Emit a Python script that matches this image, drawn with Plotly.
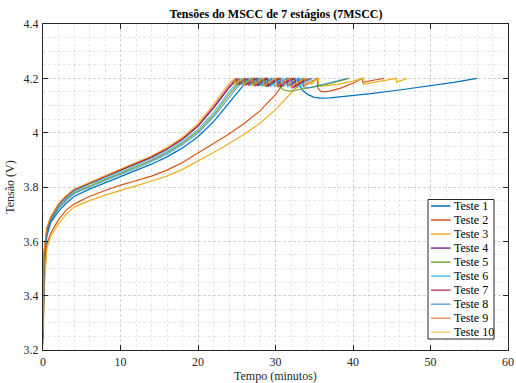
import plotly.graph_objects as go

# ---- data (time in minutes, voltage in V) ----
t1 = [0, 0.15, 0.5, 1, 2, 3, 4, 6, 8, 10, 12, 14, 16, 18, 20, 22, 24, 26, 26.6,
      26.65, 27.1, 27.7, 27.75, 28.3, 28.9, 28.95, 29.6, 30.3, 30.35, 31.0, 31.8, 31.85, 32.4, 33.0,
      33.1, 33.5, 34.2, 35.0, 35.8, 37.0, 39.0, 42.0, 46.0, 50.0, 53.0, 56.0]
v1 = [3.23, 3.50, 3.62, 3.67, 3.71, 3.74, 3.765, 3.792, 3.815, 3.838, 3.86, 3.884, 3.911, 3.944, 3.985, 4.04, 4.11, 4.18, 4.2,
      4.174, 4.189, 4.2, 4.173, 4.188, 4.2, 4.171, 4.187, 4.2, 4.17, 4.186, 4.2, 4.172, 4.188, 4.2,
      4.175, 4.155, 4.14, 4.13, 4.127, 4.128, 4.133, 4.143, 4.157, 4.172, 4.185, 4.2]

t2 = [0, 0.15, 0.5, 1, 2, 3, 4, 6, 8, 10, 12, 14, 16, 18, 20, 22, 24, 26, 28, 30, 31.5,
      31.55, 32.0, 32.5, 32.55, 33.1, 33.6, 33.65, 34.5, 35.4,
      35.45, 35.8, 36.3, 37.0, 38.5, 40.0, 41.2, 41.25, 42.6, 44.0]
v2 = [3.22, 3.45, 3.59, 3.63, 3.68, 3.715, 3.737, 3.765, 3.787, 3.807, 3.823, 3.84, 3.862, 3.89, 3.925, 3.96, 3.995, 4.035, 4.08, 4.14, 4.2,
      4.175, 4.189, 4.2, 4.173, 4.188, 4.2, 4.172, 4.187, 4.2,
      4.165, 4.153, 4.15, 4.153, 4.165, 4.182, 4.2, 4.185, 4.193, 4.2]

t3 = [0, 0.15, 0.5, 1, 2, 3, 4, 6, 8, 10, 12, 14, 16, 18, 20, 22, 24, 26, 28, 30, 32, 33.8,
      33.85, 34.2, 34.6, 34.65, 35.0, 35.5,
      35.55, 36.0, 38.0, 40.0, 41.3, 41.35, 43.5, 45.6, 45.65, 46.3, 47.0]
v3 = [3.22, 3.42, 3.575, 3.62, 3.665, 3.70, 3.726, 3.75, 3.77, 3.786, 3.804, 3.822, 3.84, 3.865, 3.895, 3.927, 3.96, 3.995, 4.035, 4.085, 4.145, 4.2,
      4.178, 4.19, 4.2, 4.177, 4.19, 4.2,
      4.172, 4.171, 4.178, 4.19, 4.2, 4.178, 4.19, 4.2, 4.186, 4.194, 4.2]

t4 = [0, 0.15, 0.5, 1, 2, 3, 4, 6, 8, 10, 12, 14, 16, 18, 20, 22, 24, 25.0,
      25.05, 25.6, 26.1, 26.15, 26.7, 27.3, 27.35, 28.0, 28.7, 28.75, 29.5, 30.3,
      30.35, 31.2, 32.2, 32.25, 33.4, 34.6]
v4 = [3.25, 3.56, 3.645, 3.686, 3.735, 3.765, 3.789, 3.815, 3.838, 3.862, 3.885, 3.91, 3.94, 3.977, 4.025, 4.092, 4.168, 4.2,
      4.175, 4.19, 4.2, 4.174, 4.189, 4.2, 4.172, 4.188, 4.2, 4.17, 4.187, 4.2,
      4.168, 4.186, 4.2, 4.165, 4.185, 4.2]

t5 = [0, 0.15, 0.5, 1, 2, 3, 4, 6, 8, 10, 12, 14, 16, 18, 20, 22, 24, 25.8,
      25.85, 26.3, 26.9, 26.95, 27.5, 28.1, 28.15, 28.8, 29.5, 29.55, 30.0, 30.5,
      30.55, 31.0, 31.8, 33.0, 35.0, 37.0, 39.5]
v5 = [3.24, 3.54, 3.635, 3.678, 3.725, 3.755, 3.779, 3.805, 3.828, 3.85, 3.873, 3.898, 3.927, 3.962, 4.005, 4.065, 4.14, 4.2,
      4.175, 4.19, 4.2, 4.174, 4.189, 4.2, 4.172, 4.188, 4.2, 4.175, 4.19, 4.2,
      4.17, 4.158, 4.153, 4.158, 4.168, 4.18, 4.2]

t6 = [0, 0.15, 0.5, 1, 2, 3, 4, 6, 8, 10, 12, 14, 16, 18, 20, 22, 24, 25.6,
      25.65, 26.1, 26.7, 26.75, 27.3, 27.9, 27.95, 28.6, 29.3, 29.35, 30.1, 30.9,
      30.95, 31.8, 32.8, 32.85, 33.8, 34.8]
v6 = [3.24, 3.55, 3.64, 3.682, 3.73, 3.76, 3.783, 3.81, 3.832, 3.855, 3.878, 3.903, 3.932, 3.968, 4.012, 4.075, 4.15, 4.2,
      4.176, 4.19, 4.2, 4.174, 4.189, 4.2, 4.172, 4.188, 4.2, 4.17, 4.187, 4.2,
      4.168, 4.186, 4.2, 4.166, 4.185, 4.2]

t7 = [0, 0.15, 0.5, 1, 2, 3, 4, 6, 8, 10, 12, 14, 16, 18, 20, 22, 24, 25.3,
      25.35, 25.9, 26.4, 26.45, 27.0, 27.6, 27.65, 28.3, 29.0, 29.05, 29.8, 30.6,
      30.65, 31.5, 32.5, 32.55, 33.3, 34.0]
v7 = [3.25, 3.56, 3.645, 3.686, 3.735, 3.765, 3.789, 3.815, 3.838, 3.862, 3.885, 3.91, 3.94, 3.976, 4.023, 4.09, 4.165, 4.2,
      4.176, 4.19, 4.2, 4.174, 4.189, 4.2, 4.172, 4.188, 4.2, 4.17, 4.187, 4.2,
      4.168, 4.186, 4.2, 4.17, 4.187, 4.2]

t8 = [0, 0.15, 0.5, 1, 2, 3, 4, 6, 8, 10, 12, 14, 16, 18, 20, 22, 24, 26.0,
      26.05, 26.5, 27.1, 27.15, 27.7, 28.3, 28.35, 29.0, 29.8, 29.85, 30.6, 31.5,
      31.55, 32.5, 33.5, 33.55, 34.3, 35.5, 37.5, 39.3]
v8 = [3.24, 3.53, 3.63, 3.675, 3.72, 3.75, 3.775, 3.8, 3.823, 3.846, 3.868, 3.893, 3.921, 3.956, 3.998, 4.057, 4.13, 4.2,
      4.176, 4.19, 4.2, 4.174, 4.189, 4.2, 4.172, 4.188, 4.2, 4.17, 4.187, 4.2,
      4.169, 4.186, 4.2, 4.168, 4.165, 4.174, 4.187, 4.2]

t9 = [0, 0.15, 0.5, 1, 2, 3, 4, 6, 8, 10, 12, 14, 16, 18, 20, 22, 24, 24.9,
      24.95, 25.5, 26.0, 26.05, 26.6, 27.2, 27.25, 27.9, 28.6, 28.65, 29.4, 30.2,
      30.25, 31.1, 32.0, 32.05, 33.1, 34.2]
v9 = [3.26, 3.57, 3.65, 3.69, 3.738, 3.768, 3.792, 3.818, 3.841, 3.865, 3.888, 3.913, 3.943, 3.98, 4.03, 4.1, 4.178, 4.2,
      4.176, 4.19, 4.2, 4.174, 4.189, 4.2, 4.172, 4.188, 4.2, 4.17, 4.187, 4.2,
      4.168, 4.186, 4.2, 4.166, 4.185, 4.2]

t10 = [0, 0.15, 0.5, 1, 2, 3, 4, 6, 8, 10, 12, 14, 16, 18, 20, 22, 24, 24.7,
       24.75, 25.3, 25.8, 25.85, 26.4, 27.0, 27.05, 27.7, 28.4, 28.45, 29.2, 30.0,
       30.05, 30.9, 31.8, 31.85, 32.8, 33.8, 33.85, 34.8, 35.8]
v10 = [3.26, 3.57, 3.65, 3.69, 3.738, 3.768, 3.792, 3.818, 3.841, 3.866, 3.89, 3.915, 3.946, 3.984, 4.035, 4.105, 4.183, 4.2,
       4.176, 4.19, 4.2, 4.174, 4.189, 4.2, 4.172, 4.188, 4.2, 4.17, 4.187, 4.2,
       4.168, 4.186, 4.2, 4.167, 4.185, 4.2, 4.172, 4.188, 4.2]

series_t = [t1, t2, t3, t4, t5, t6, t7, t8, t9, t10]
series_v = [v1, v2, v3, v4, v5, v6, v7, v8, v9, v10]
names = ["Teste 1", "Teste 2", "Teste 3", "Teste 4", "Teste 5",
         "Teste 6", "Teste 7", "Teste 8", "Teste 9", "Teste 10"]
colors = ["#0072BD", "#D95319", "#EDB120", "#7E2F8E", "#77AC30",
          "#4DBEEE", "rgba(162,20,47,0.75)", "rgba(0,114,189,0.6)",
          "rgba(217,83,25,0.6)", "rgba(237,177,32,0.6)"]

x_ticks = [0, 10, 20, 30, 40, 50, 60]
y_ticks = [3.2, 3.4, 3.6, 3.8, 4.0, 4.2, 4.4]
y_tick_text = ["3.2", "3.4", "3.6", "3.8", "4", "4.2", "4.4"]
x_title = "Tempo (minutos)"
y_title = "Tensão (V)"
chart_title = "Tensões do MSCC de 7 estágios (7MSCC)"

FONT = "Liberation Serif"
AX = "#262626"
GRID = "rgba(0,0,0,0.09)"

# plot-area geometry in pixels (for the hand-built legend box and titles)
W, H = 516, 383
L, R, T, B = 43, 8, 24, 33
PW, PH = W - L - R, H - T - B

def px_x(p):
    return (p - L) / PW

def px_y(p):
    return (H - B - p) / PH

fig = go.Figure()
for t, v, n, c in zip(series_t, series_v, names, colors):
    fig.add_trace(go.Scatter(x=t, y=v, mode="lines", name=n,
                             line=dict(color=c, width=1.2)))

axis_common = dict(
    showline=True, linecolor=AX, linewidth=1, mirror="allticks",
    ticks="inside", ticklen=5, tickcolor=AX, tickwidth=1,
    showgrid=True, gridcolor=GRID, griddash="3px,2px", gridwidth=1,
    zeroline=False, automargin=False,
    tickfont=dict(family=FONT, size=12, color=AX),
)

fig.update_xaxes(
    range=[0, 60], tickvals=x_ticks, ticktext=[str(x) for x in x_ticks],
    ticklabelstandoff=1,
    minor=dict(dtick=2, showgrid=True, gridcolor=GRID, griddash="3px,2px", ticks=""),
    **axis_common,
)
fig.update_yaxes(
    range=[3.2, 4.4], tickvals=y_ticks, ticktext=y_tick_text,
    ticklabelstandoff=1,
    title=dict(text=y_title, font=dict(family=FONT, size=12, color=AX), standoff=6),
    minor=dict(dtick=0.05, tick0=3.2, showgrid=True, gridcolor=GRID, griddash="3px,2px", ticks=""),
    **axis_common,
)

# legend box drawn as layout shapes/annotations (MATLAB-style compact legend)
shapes = [dict(type="rect", xref="paper", yref="paper",
               x0=px_x(428), x1=px_x(494), y0=px_y(339), y1=px_y(199.5),
               line=dict(color=AX, width=1), fillcolor="white", layer="above")]
annotations = []
for i, (n, c) in enumerate(zip(names, colors)):
    yy = 206 + i * 14.03
    shapes.append(dict(type="line", xref="paper", yref="paper",
                       x0=px_x(431), x1=px_x(450.5), y0=px_y(yy), y1=px_y(yy),
                       line=dict(color=c, width=1.5), layer="above"))
    annotations.append(dict(xref="paper", yref="paper", x=px_x(451.5), y=px_y(yy),
                            text=n, showarrow=False, xanchor="left", yanchor="middle",
                            font=dict(family=FONT, size=12, color="black")))

# x-axis title placed below the tick labels
annotations.append(dict(xref="paper", yref="paper", x=px_x(275.5), y=px_y(376),
                        text=x_title, showarrow=False, xanchor="center", yanchor="middle",
                        font=dict(family=FONT, size=12, color=AX)))

fig.update_layout(
    width=W, height=H,
    margin=dict(l=L, r=R, t=T, b=B),
    paper_bgcolor="white", plot_bgcolor="white",
    title=dict(text="<b>" + chart_title + "</b>",
               font=dict(family=FONT, size=12, color="black"),
               x=0.535, xanchor="center", y=0.975, yanchor="top"),
    showlegend=False,
    shapes=shapes,
    annotations=annotations,
)

fig.write_html("out.html")
